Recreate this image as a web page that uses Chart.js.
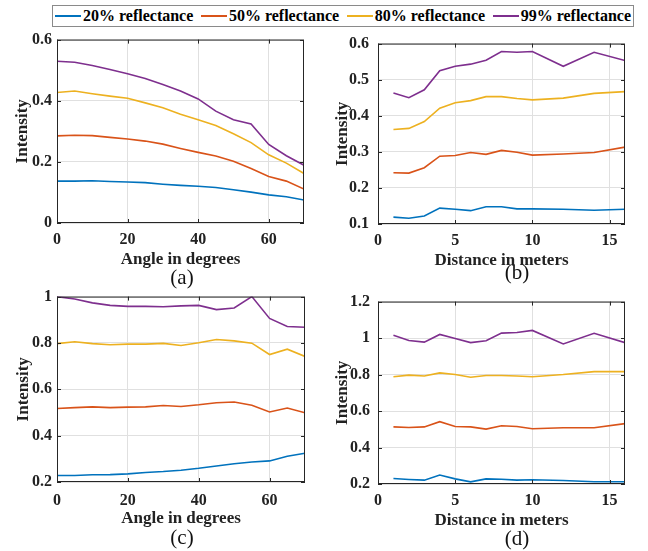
<!DOCTYPE html>
<html>
<head>
<meta charset="utf-8">
<script src="https://cdn.jsdelivr.net/npm/chart.js@4.4.1/dist/chart.umd.min.js"></script>
<style>
    body { margin: 0; background: #fff; }
    #wrap { position: relative; width: 648px; height: 551px; font-family: "Liberation Serif", "Times New Roman", serif; }
    #wrap canvas { position: absolute; }
    .legend {
        position: absolute; left: 52px; top: 5px; width: 576px; height: 20px;
        border: 1px solid #8a8a8a; display: flex; justify-content: space-between; align-items: center;
        padding: 0 2px; font-weight: bold; font-size: 16px; color: #000;
    }
    .legend span { display: flex; align-items: center; }
    .legend i { display: inline-block; width: 26px; height: 2px; margin-right: 2px; }
    .cap { position: absolute; font-size: 21px; transform: translate(-50%, -50%); color: #111; }
</style>
</head>
<body>
<div id="wrap">
    <div class="legend" id="legend"></div>
    <canvas id="chartA" width="314" height="245" style="left:0px;top:25px"></canvas>
    <canvas id="chartB" width="310" height="246" style="left:325px;top:25px"></canvas>
    <canvas id="chartC" width="315" height="247" style="left:0px;top:282px"></canvas>
    <canvas id="chartD" width="310" height="247" style="left:325px;top:284px"></canvas>
    <div class="cap" style="left:182px;top:277px">(a)</div>
    <div class="cap" style="left:517px;top:272px">(b)</div>
    <div class="cap" style="left:182px;top:537px">(c)</div>
    <div class="cap" style="left:517px;top:538px">(d)</div>
</div>
<script>
// x values
const angles = [0, 5, 10, 15, 20, 25, 30, 35, 40, 45, 50, 55, 60, 65, 70];
const distances = [1, 2, 3, 4, 5, 6, 7, 8, 9, 10, 12, 14, 16];

const seriesNames = ['20% reflectance', '50% reflectance', '80% reflectance', '99% reflectance'];
const seriesColors = ['#0072BD', '#D95319', '#EDB120', '#7E2F8E'];

// (a) intensity vs angle
const a20 = [0.137, 0.137, 0.138, 0.136, 0.134, 0.132, 0.127, 0.123, 0.120, 0.116, 0.109, 0.101, 0.092, 0.086, 0.075];
const a50 = [0.285, 0.287, 0.286, 0.280, 0.275, 0.268, 0.258, 0.244, 0.231, 0.219, 0.202, 0.178, 0.152, 0.137, 0.111];
const a80 = [0.427, 0.432, 0.423, 0.415, 0.408, 0.393, 0.377, 0.356, 0.338, 0.319, 0.292, 0.263, 0.223, 0.196, 0.162];
const a99 = [0.529, 0.526, 0.515, 0.502, 0.488, 0.473, 0.453, 0.432, 0.406, 0.366, 0.338, 0.324, 0.257, 0.220, 0.189];

// (b) intensity vs distance
const b20 = [0.119, 0.116, 0.122, 0.144, 0.141, 0.137, 0.148, 0.148, 0.142, 0.142, 0.141, 0.138, 0.141];
const b50 = [0.242, 0.241, 0.256, 0.288, 0.290, 0.298, 0.293, 0.304, 0.299, 0.291, 0.294, 0.298, 0.313];
const b80 = [0.362, 0.365, 0.384, 0.421, 0.436, 0.442, 0.453, 0.453, 0.448, 0.444, 0.449, 0.462, 0.467];
const b99 = [0.463, 0.450, 0.472, 0.525, 0.537, 0.543, 0.554, 0.578, 0.576, 0.578, 0.537, 0.576, 0.553];

// (c) intensity vs angle
const c20 = [0.228, 0.228, 0.231, 0.232, 0.235, 0.241, 0.245, 0.251, 0.259, 0.269, 0.279, 0.286, 0.291, 0.311, 0.324];
const c50 = [0.517, 0.521, 0.524, 0.521, 0.523, 0.524, 0.530, 0.526, 0.533, 0.542, 0.545, 0.531, 0.502, 0.519, 0.499];
const c80 = [0.797, 0.805, 0.797, 0.792, 0.795, 0.795, 0.798, 0.789, 0.801, 0.815, 0.809, 0.799, 0.750, 0.773, 0.742];
const c99 = [1.000, 0.990, 0.973, 0.962, 0.958, 0.958, 0.956, 0.960, 0.962, 0.944, 0.951, 1.000, 0.906, 0.871, 0.868];

// (d) intensity vs distance
const d20 = [0.230, 0.225, 0.221, 0.249, 0.228, 0.212, 0.228, 0.226, 0.221, 0.223, 0.219, 0.212, 0.212];
const d50 = [0.513, 0.510, 0.513, 0.542, 0.515, 0.513, 0.501, 0.519, 0.515, 0.503, 0.508, 0.508, 0.531];
const d80 = [0.788, 0.797, 0.792, 0.809, 0.800, 0.785, 0.795, 0.795, 0.792, 0.788, 0.800, 0.816, 0.816];
const d99 = [1.015, 0.987, 0.978, 1.020, 0.998, 0.975, 0.985, 1.027, 1.031, 1.042, 0.968, 1.026, 0.975];

// shared legend
const legend = document.getElementById('legend');
seriesNames.forEach(function (name, i) {
    const item = document.createElement('span');
    item.innerHTML = '<i style="background:' + seriesColors[i] + '"></i>' + name;
    legend.appendChild(item);
});

const fontFamily = '"Liberation Serif", "Times New Roman", serif';

// box around plot area plus small inward ticks, like matlab
const boxPlugin = {
    id: 'box',
    afterDraw(chart) {
        const ctx = chart.ctx, a = chart.chartArea;
        const xs = chart.scales.x, ys = chart.scales.y;
        ctx.save();
        ctx.strokeStyle = '#262626';
        ctx.lineWidth = 1;
        ctx.strokeRect(a.left + 0.5, a.top + 0.5, a.right - a.left - 1, a.bottom - a.top - 1);
        ctx.beginPath();
        xs.ticks.forEach(t => {
            const p = Math.round(xs.getPixelForValue(t.value)) + 0.5;
            ctx.moveTo(p, a.bottom); ctx.lineTo(p, a.bottom - 4);
            ctx.moveTo(p, a.top); ctx.lineTo(p, a.top + 4);
        });
        ys.ticks.forEach(t => {
            const p = Math.round(ys.getPixelForValue(t.value)) + 0.5;
            ctx.moveTo(a.left, p); ctx.lineTo(a.left + 4, p);
            ctx.moveTo(a.right, p); ctx.lineTo(a.right - 4, p);
        });
        ctx.stroke();
        ctx.restore();
    }
};

function makeChart(id, xs, ysList, cfg) {
    const ctx = document.getElementById(id).getContext('2d');
    return new Chart(ctx, {
        type: 'line',
        data: {
            datasets: ysList.map(function (ys, i) {
                return {
                    label: seriesNames[i],
                    data: ys.map((y, k) => ({ x: xs[k], y: y })),
                    borderColor: seriesColors[i],
                    backgroundColor: seriesColors[i],
                    borderWidth: 1.6,
                    pointRadius: 0,
                    tension: 0
                };
            })
        },
        options: {
            responsive: false,
            animation: false,
            layout: { padding: { top: 10, right: 10, left: 0, bottom: 0 } },
            plugins: { legend: { display: false }, tooltip: { enabled: false } },
            scales: {
                x: {
                    type: 'linear',
                    min: cfg.xMin, max: cfg.xMax,
                    afterFit: s => { s.height = 47; },
                    ticks: {
                        stepSize: cfg.xStep, includeBounds: false, padding: cfg.xTickPad,
                        color: '#222', font: { family: fontFamily, size: 16, weight: 'bold' }
                    },
                    grid: { color: '#e0e0e0', drawTicks: false },
                    border: { display: false },
                    title: {
                        display: true, text: cfg.xTitle, color: '#222', padding: 0,
                        font: { family: fontFamily, size: 17, weight: 'bold' }
                    }
                },
                y: {
                    min: cfg.yMin, max: cfg.yMax,
                    afterFit: s => { s.width = cfg.yWidth; },
                    ticks: {
                        stepSize: cfg.yStep, padding: cfg.yTickPad,
                        color: '#222', font: { family: fontFamily, size: 16, weight: 'bold' },
                        callback: v => String(+v.toFixed(2))
                    },
                    grid: { color: '#e0e0e0', drawTicks: false },
                    border: { display: false },
                    title: {
                        display: true, text: 'Intensity', color: '#222', padding: { top: cfg.yTitlePad, bottom: 0 },
                        font: { family: fontFamily, size: 17, weight: 'bold' }
                    }
                }
            }
        },
        plugins: [boxPlugin]
    });
}

makeChart('chartA', angles, [a20, a50, a80, a99], {
    xMin: 0, xMax: 70, xStep: 20, xTitle: 'Angle in degrees', xTickPad: 7,
    yMin: 0, yMax: 0.6, yStep: 0.2, yWidth: 57, yTickPad: 5, yTitlePad: 12
});
makeChart('chartB', distances, [b20, b50, b80, b99], {
    xMin: 0, xMax: 16, xStep: 5, xTitle: 'Distance in meters', xTickPad: 7,
    yMin: 0.1, yMax: 0.6, yStep: 0.1, yWidth: 53, yTickPad: 9, yTitlePad: 7
});
makeChart('chartC', angles, [c20, c50, c80, c99], {
    xMin: 0, xMax: 70, xStep: 20, xTitle: 'Angle in degrees', xTickPad: 9,
    yMin: 0.2, yMax: 1, yStep: 0.2, yWidth: 57, yTickPad: 5, yTitlePad: 13
});
makeChart('chartD', distances, [d20, d50, d80, d99], {
    xMin: 0, xMax: 16, xStep: 5, xTitle: 'Distance in meters', xTickPad: 7,
    yMin: 0.2, yMax: 1.2, yStep: 0.2, yWidth: 53, yTickPad: 8, yTitlePad: 7
});
</script>
</body>
</html>
